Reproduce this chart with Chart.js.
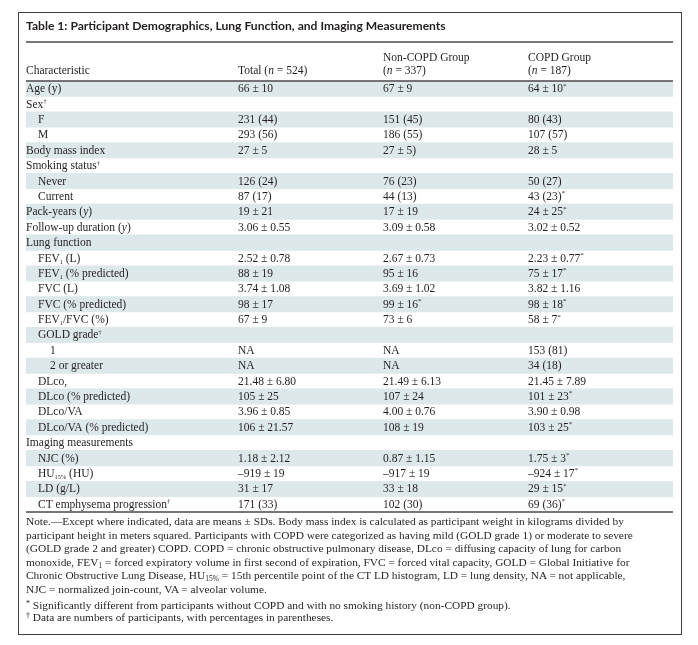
<!DOCTYPE html>
<html>
<head>
<meta charset="utf-8">
<script src="https://cdn.jsdelivr.net/npm/chart.js@4.4.1/dist/chart.umd.min.js"></script>
<style>
  html, body { margin: 0; padding: 0; background: #fff; }
  body { width: 698px; height: 645px; position: relative; overflow: hidden; }
  #frame { position: absolute; left: 18px; top: 12px; width: 664px; height: 623px; border: 1.5px solid #3d3d3d; box-sizing: border-box; }
  #table { position: absolute; left: 0; top: 0; }
  #title { position: absolute; left: 26px; top: 18px; font: bold 12.1px Lato, sans-serif; color: #231f20; white-space: nowrap; }
  .note { position: absolute; left: 26px; font: 11.35px "Liberation Serif", serif; color: #231f20; white-space: nowrap; }
  .note sub { font-size: 7.5px; vertical-align: -2px; line-height: 0; }
  .note sup { font-size: 8px; vertical-align: 3px; line-height: 0; }
</style>
</head>
<body>
<div id="frame"></div>
<canvas id="table" width="698" height="645"></canvas>
<div id="title">Table 1: Participant Demographics, Lung Function, and Imaging Measurements</div>
<div class="note" style="top: 515px; line-height: 13.6px;">
Note.—Except where indicated, data are means ± SDs. Body mass index is calculated as participant weight in kilograms divided by<br>
participant height in meters squared. Participants with COPD were categorized as having mild (GOLD grade 1) or moderate to severe<br>
(GOLD grade 2 and greater) COPD. COPD = chronic obstructive pulmonary disease, DLco = diffusing capacity of lung for carbon<br>
monoxide, FEV<sub>1</sub> = forced expiratory volume in first second of expiration, FVC = forced vital capacity, GOLD = Global Initiative for<br>
Chronic Obstructive Lung Disease, HU<sub>15%</sub> = 15th percentile point of the CT LD histogram, LD = lung density, NA = not applicable,<br>
NJC = normalized join-count, VA = alveolar volume.
</div>
<div class="note" style="top: 598.5px; line-height: 12px;">
<sup>*</sup> Significantly different from participants without COPD and with no smoking history (non-COPD group).<br>
<sup>†</sup> Data are numbers of participants, with percentages in parentheses.
</div>
<script>
// Tabelldata: ^{..} = upphöjt, _{..} = nedsänkt, ~..~ = kursivt
const headerTop = ['', '', 'Non-COPD Group', 'COPD Group'];
const headerBottom = ['Characteristic', 'Total (~n~ = 524)', '(~n~ = 337)', '(~n~ = 187)'];

const rowLabels = [
    'Age (y)', 'Sex^{†}', 'F', 'M', 'Body mass index', 'Smoking status^{†}', 'Never', 'Current',
    'Pack-years (~y~)', 'Follow-up duration (~y~)', 'Lung function', 'FEV_{1} (L)', 'FEV_{1} (% predicted)',
    'FVC (L)', 'FVC (% predicted)', 'FEV_{1}/FVC (%)', 'GOLD grade^{†}', '1', '2 or greater', 'DLco,',
    'DLco (% predicted)', 'DLco/VA', 'DLco/VA (% predicted)', 'Imaging measurements', 'NJC (%)',
    'HU_{15%} (HU)', 'LD (g/L)', 'CT emphysema progression^{†}'
];
const rowIndent = [0, 0, 1, 1, 0, 0, 1, 1, 0, 0, 0, 1, 1, 1, 1, 1, 1, 2, 2, 1, 1, 1, 1, 0, 1, 1, 1, 1];

const totalValues = [
    '66 ± 10', '', '231 (44)', '293 (56)', '27 ± 5', '', '126 (24)', '87 (17)', '19 ± 21', '3.06 ± 0.55',
    '', '2.52 ± 0.78', '88 ± 19', '3.74 ± 1.08', '98 ± 17', '67 ± 9', '', 'NA', 'NA', '21.48 ± 6.80',
    '105 ± 25', '3.96 ± 0.85', '106 ± 21.57', '', '1.18 ± 2.12', '–919 ± 19', '31 ± 17', '171 (33)'
];
const nonCopdValues = [
    '67 ± 9', '', '151 (45)', '186 (55)', '27 ± 5)', '', '76 (23)', '44 (13)', '17 ± 19', '3.09 ± 0.58',
    '', '2.67 ± 0.73', '95 ± 16', '3.69 ± 1.02', '99 ± 16^{*}', '73 ± 6', '', 'NA', 'NA', '21.49 ± 6.13',
    '107 ± 24', '4.00 ± 0.76', '108 ± 19', '', '0.87 ± 1.15', '–917 ± 19', '33 ± 18', '102 (30)'
];
const copdValues = [
    '64 ± 10^{*}', '', '80 (43)', '107 (57)', '28 ± 5', '', '50 (27)', '43 (23)^{*}', '24 ± 25^{*}', '3.02 ± 0.52',
    '', '2.23 ± 0.77^{*}', '75 ± 17^{*}', '3.82 ± 1.16', '98 ± 18^{*}', '58 ± 7^{*}', '', '153 (81)', '34 (18)', '21.45 ± 7.89',
    '101 ± 23^{*}', '3.90 ± 0.98', '103 ± 25^{*}', '', '1.75 ± 3^{*}', '–924 ± 17^{*}', '29 ± 15^{*}', '69 (36)^{*}'
];

// Vilka rader som har tonad bakgrund
const shadedRows = [1, 0, 1, 0, 1, 0, 1, 0, 1, 0, 1, 0, 1, 0, 1, 0, 1, 0, 1, 0, 1, 0, 1, 0, 1, 0, 1, 0];

// Kolumnernas startläge på x-skalan (0-100 = tabellens bredd)
const columnPos = [0, 32.77, 55.18, 77.59];

const FONT = '"Liberation Serif", "Times New Roman", serif';
const TEXT_COLOR = '#231f20';
const FONT_SIZE = 11.5;

// Ritar en textsträng med enkel markup för upphöjt/nedsänkt/kursivt
function drawRich(ctx, str, x, y, size) {
    const re = /\^\{([^}]*)\}|_\{([^}]*)\}|~([^~]*)~|([^^_~]+)/g;
    let m;
    while ((m = re.exec(str)) !== null) {
        let text, font, dy = 0;
        if (m[1] !== undefined) {
            text = m[1]; font = `${size * 0.62}px ${FONT}`; dy = -size * 0.3;
        } else if (m[2] !== undefined) {
            text = m[2]; font = `${size * 0.55}px ${FONT}`; dy = size * 0.32;
        } else if (m[3] !== undefined) {
            text = m[3]; font = `italic ${size}px ${FONT}`;
        } else {
            text = m[4]; font = `${size}px ${FONT}`;
        }
        ctx.font = font;
        ctx.fillText(text, x, y + dy);
        x += ctx.measureText(text).width;
    }
}

const tableText = {
    id: 'tableText',
    afterDatasetsDraw(chart) {
        const { ctx, chartArea, scales: { x, y } } = chart;
        ctx.save();
        ctx.fillStyle = TEXT_COLOR;
        ctx.textBaseline = 'middle';
        ctx.textAlign = 'left';

        // Kolumnrubriker
        headerTop.forEach((h, c) => {
            if (h) drawRich(ctx, h, x.getPixelForValue(columnPos[c]), chartArea.top - 23.5, FONT_SIZE);
        });
        headerBottom.forEach((h, c) => {
            if (h) drawRich(ctx, h, x.getPixelForValue(columnPos[c]), chartArea.top - 10.5, FONT_SIZE);
        });

        // Celler
        rowLabels.forEach((label, i) => {
            const py = y.getPixelForValue(i) + 0.5;
            drawRich(ctx, label, x.getPixelForValue(columnPos[0]) + rowIndent[i] * 12, py, FONT_SIZE);
            [totalValues, nonCopdValues, copdValues].forEach((col, c) => {
                if (col[i]) drawRich(ctx, col[i], x.getPixelForValue(columnPos[c + 1]), py, FONT_SIZE);
            });
        });

        // Linjer: under titeln, under rubrikraden, under sista raden
        ctx.strokeStyle = '#4a4a4a';
        ctx.lineWidth = 1.5;
        [chartArea.top - 39, chartArea.top, chartArea.bottom].forEach(ry => {
            ctx.beginPath();
            ctx.moveTo(chartArea.left, ry);
            ctx.lineTo(chartArea.right, ry);
            ctx.stroke();
        });
        ctx.restore();
    }
};

new Chart(document.getElementById('table'), {
    type: 'bar',
    data: {
        labels: rowLabels,
        datasets: [{
            data: shadedRows.map(s => s ? [0, 100] : null),
            backgroundColor: '#dce8ea',
            borderWidth: 0,
            barPercentage: 1,
            categoryPercentage: 1
        }]
    },
    options: {
        indexAxis: 'y',
        responsive: false,
        animation: false,
        events: [],
        layout: { padding: { left: 26, right: 25, top: 81, bottom: 133 } },
        scales: {
            x: { type: 'linear', min: 0, max: 100, display: false },
            y: { type: 'category', display: false, offset: true }
        },
        plugins: { legend: { display: false }, tooltip: { enabled: false } }
    },
    plugins: [tableText]
});
</script>
</body>
</html>
